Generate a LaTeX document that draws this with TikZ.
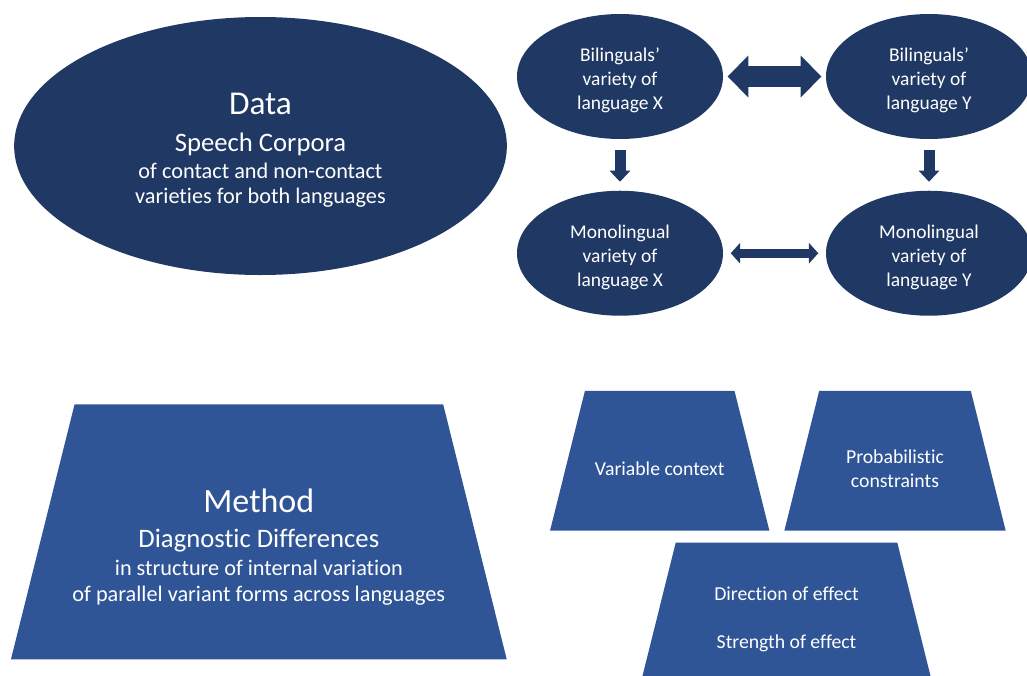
\documentclass[tikz,border=0pt]{standalone}
\usepackage{fontspec}
\setmainfont{Carlito}[Ligatures={TeX,NoCommon}]
\usetikzlibrary{arrows.meta, positioning, shapes.geometric}

\definecolor{navy}{RGB}{31,56,100}
\definecolor{midblue}{RGB}{47,85,151}

\begin{document}
\begin{tikzpicture}[
        x=0.75pt, y=-0.75pt,
        bigoval/.style={ellipse, fill=navy, inner sep=0pt, outer sep=0pt},
        smalloval/.style={bigoval, minimum width=154.5pt, minimum height=93.75pt},
        trap/.style={trapezium, trapezium angle=76, trapezium stretches body, fill=midblue, inner xsep=0pt, outer sep=0pt},
        txt/.style={text=white, align=center, inner sep=0pt, font=\fontsize{14.8}{18}\selectfont},
        node distance=38.8pt and 77.25pt
    ]
        \useasboundingbox (0,0) rectangle (1027,675);
        \clip (0,0) rectangle (1027,675);

        % data side
        \node[bigoval, minimum width=369.5pt, minimum height=193.5pt] (data) at (260.5,146) {};
        \node[txt, font=\fontsize{16.7}{18.75}\selectfont] (datatext) at ([yshift=-3pt]data.center)
            {{\fontsize{25}{30}\selectfont Data}\\[9pt]{\fontsize{20}{24}\selectfont Speech Corpora}\\[1.75pt]of contact and non-contact\\varieties for both languages};

        \node[smalloval] (bx) at (620,76.5) {};
        \node[smalloval, right=of bx] (by) {};
        \node[smalloval, below=of bx] (mx) {};
        \node[smalloval, below=of by] (my) {};

        \node[txt, font=\fontsize{14.6}{18}\selectfont] (bxtext) at ([yshift=-3pt]bx.center) {Bilinguals’\\variety of\\language X};
        \node[txt, font=\fontsize{14.6}{18}\selectfont] (bytext) at ([yshift=-3pt]by.center) {Bilinguals’\\variety of\\language Y};
        \node[txt, font=\fontsize{14.6}{18}\selectfont] (mxtext) at ([yshift=-3pt]mx.center) {Monolingual\\variety of\\language X};
        \node[txt, font=\fontsize{14.6}{18}\selectfont] (mytext) at ([yshift=-3pt]my.center) {Monolingual\\variety of\\language Y};

        \draw[navy, line width=16.3pt, {Triangle[length=15.5pt, width=31.5pt, line width=0pt]}-{Triangle[length=15.5pt, width=31.5pt, line width=0pt]}, shorten <=3.5pt, shorten >=3.5pt] (bx) -- (by);
        \draw[navy, line width=7pt, {Triangle[length=7pt, width=15.5pt, line width=0pt]}-{Triangle[length=7pt, width=15.5pt, line width=0pt]}, shorten <=5.8pt, shorten >=5.8pt] (mx) -- (my);
        \draw[navy, line width=8.25pt, -{Triangle[length=8.25pt, width=15.5pt, line width=0pt]}, shorten <=8.25pt, shorten >=6.75pt] (bx) -- (mx);
        \draw[navy, line width=8.25pt, -{Triangle[length=8.25pt, width=15.5pt, line width=0pt]}, shorten <=8.25pt, shorten >=6.75pt] (by) -- (my);

        % method side
        \node[trap, minimum width=371.8pt, inner ysep=95.6pt] (method) at (258.85,531.8) {};
        \node[txt, font=\fontsize{16.7}{19.5}\selectfont] (methodtext) at ([yshift=-11.4pt]method.center)
            {{\fontsize{25.5}{30}\selectfont Method}\\[6.75pt]{\fontsize{20}{24}\selectfont Diagnostic Differences}\\[1pt]in structure of internal variation\\of parallel variant forms across languages};

        \node[trap, minimum width=164.5pt, inner ysep=52.4pt] (context) at (659.7,460.85) {};
        \node[trap, minimum width=166pt, inner ysep=52.4pt] (prob) at (895,460.85) {};
        \node[trap, minimum width=217.8pt, inner ysep=51.75pt] (effect) at (786.5,611.7) {};

        \node[txt] (contexttext) at ([yshift=-6pt]context.center) {Variable context};
        \node[txt] (probtext) at ([yshift=-6pt]prob.center) {Probabilistic\\constraints};
        \node[txt] (effecttext) at ([yshift=-6pt]effect.center) {Direction of effect\\[18pt]Strength of effect};
    \end{tikzpicture}
\end{document}
